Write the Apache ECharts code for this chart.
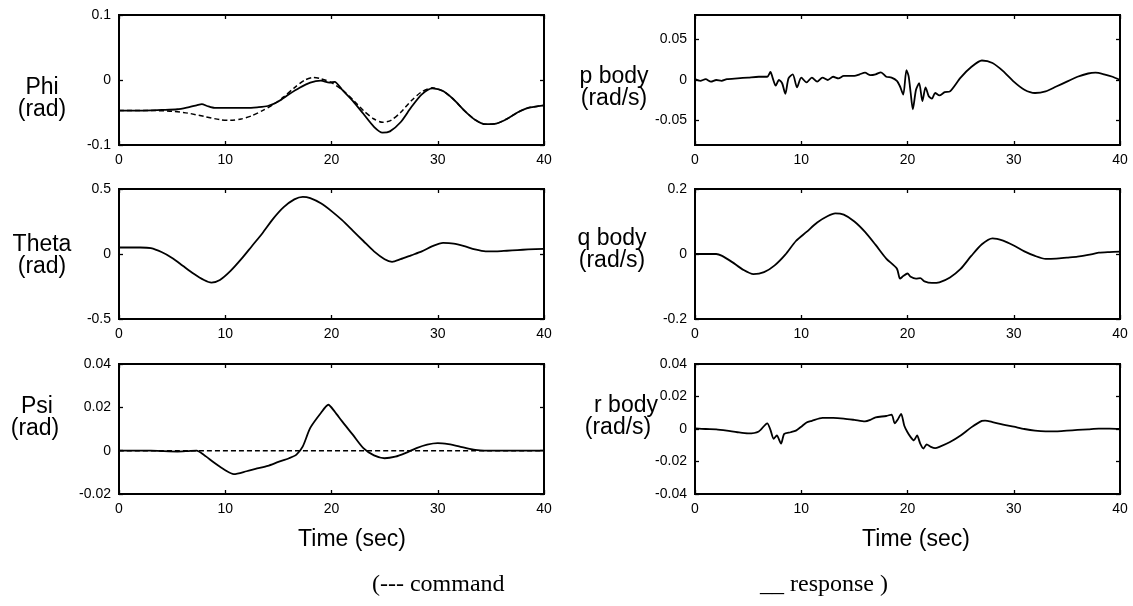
<!DOCTYPE html>
<html><head><meta charset="utf-8">
<script src="https://cdn.jsdelivr.net/npm/echarts@6/dist/echarts.min.js"></script>
<style>html,body{margin:0;padding:0;background:#fff}#c{width:1133px;height:606px}</style>
</head><body><div id="c"></div>
<script>
// ---- data: [time (s), value] ----
const phiResponse = [[0,-0.047],[2,-0.047],[4,-0.046],[5.5,-0.045],[6.5,-0.042],[7.3,-0.039],[7.8,-0.037],[8.3,-0.04],[9,-0.043],[10,-0.043],[11,-0.043],[12,-0.043],[13,-0.042],[14,-0.04],[15,-0.033],[16,-0.022],[17,-0.012],[18,-0.004],[19,-0.001],[19.8,-0.004],[20.3,-0.003],[21,-0.015],[22,-0.032],[23,-0.052],[24,-0.072],[24.8,-0.081],[25.5,-0.079],[26.5,-0.065],[27.5,-0.042],[28.5,-0.022],[29.5,-0.013],[30.5,-0.017],[31.5,-0.03],[32.5,-0.047],[33.5,-0.061],[34.5,-0.068],[35.5,-0.067],[36.5,-0.06],[37.5,-0.05],[38.5,-0.043],[40,-0.039]];
const phiCommand = [[0,-0.047],[3,-0.047],[5,-0.048],[6.5,-0.051],[8,-0.056],[9.5,-0.061],[10.5,-0.062],[11.5,-0.06],[12.5,-0.055],[13.5,-0.047],[14.5,-0.038],[15.5,-0.026],[16.5,-0.012],[17.5,0.0],[18.3,0.004],[19,0.002],[20,-0.004],[21,-0.015],[22,-0.03],[23,-0.047],[24,-0.06],[24.8,-0.065],[25.6,-0.062],[26.5,-0.05],[27.5,-0.032],[28.5,-0.018],[29.5,-0.012],[30.5,-0.017],[31.5,-0.03],[32.5,-0.047],[33.5,-0.061],[34.5,-0.068],[35.5,-0.067],[36.5,-0.06],[37.5,-0.05],[38.5,-0.043],[40,-0.039]];
const thetaResponse = [[0,0.05],[1,0.05],[2,0.05],[3,0.045],[4,0.015],[5,-0.03],[6,-0.09],[7,-0.15],[8,-0.2],[8.7,-0.22],[9.5,-0.2],[10.5,-0.13],[11.5,-0.04],[12.5,0.06],[13.5,0.16],[14.5,0.27],[15.5,0.36],[16.5,0.42],[17.3,0.44],[18,0.43],[19,0.39],[20,0.33],[21,0.26],[22,0.18],[23,0.1],[24,0.02],[25,-0.04],[25.7,-0.06],[26.5,-0.04],[27.5,-0.01],[28.5,0.02],[29.5,0.06],[30.5,0.085],[31.5,0.08],[32.5,0.06],[33.5,0.035],[34.5,0.02],[35.5,0.02],[36.5,0.025],[37.5,0.03],[38.5,0.035],[40,0.04]];
const psiResponse = [[0,0],[3,0],[4,-0.0002],[5.5,-0.0004],[6.5,-0.0002],[7.3,0],[8,-0.002],[9,-0.0057],[10,-0.009],[10.8,-0.0108],[12,-0.0095],[13,-0.0082],[14,-0.007],[15,-0.0052],[16,-0.0035],[16.7,-0.0018],[17.3,0.002],[18,0.0105],[19,0.0174],[19.7,0.0212],[20.3,0.018],[21,0.0135],[22,0.0074],[23,0.0012],[24,-0.0022],[25,-0.0035],[26,-0.0028],[27,-0.001],[28,0.0012],[29,0.0028],[30,0.0035],[31,0.003],[32,0.002],[33,0.0008],[34,0.0001],[35,0],[40,0]];
const psiCommand = [[0,0],[40,0]];
const pBody = [[0,0.001],[0.5,-0.001],[1,0.001],[1.5,-0.002],[2,0.0],[2.5,-0.001],[3,0.001],[4,0.002],[5,0.003],[6,0.004],[6.8,0.004],[7.1,0.01],[7.3,0.003],[7.6,-0.007],[7.9,0.0],[8.2,-0.004],[8.5,-0.017],[8.8,0.002],[9.2,0.007],[9.6,-0.009],[10,0.003],[10.5,-0.003],[11,0.003],[11.5,-0.002],[12,0.003],[12.5,0.0],[13,0.004],[13.5,0.002],[14,0.005],[15,0.005],[15.5,0.007],[16,0.009],[16.5,0.006],[17,0.007],[17.5,0.0095],[18,0.004],[18.5,0.003],[19,-0.001],[19.3,-0.008],[19.6,-0.018],[19.9,0.012],[20.1,0.005],[20.3,-0.016],[20.5,-0.036],[20.8,-0.012],[21.1,-0.004],[21.4,-0.026],[21.7,-0.009],[22,-0.02],[22.3,-0.023],[22.6,-0.016],[23,-0.019],[23.5,-0.015],[24,-0.014],[25,0.003],[26,0.016],[27,0.024],[28,0.021],[29,0.011],[30,-0.002],[31,-0.012],[32,-0.016],[33,-0.014],[34,-0.008],[35,-0.002],[36,0.004],[37,0.008],[37.7,0.009],[38.5,0.007],[39.3,0.004],[40,0.0]];
const qBody = [[0,0],[2,0],[2.5,-0.005],[3.5,-0.025],[4.5,-0.048],[5.5,-0.062],[6.5,-0.056],[7.5,-0.035],[8.5,-0.002],[9.5,0.04],[10.5,0.068],[11.5,0.097],[12.5,0.117],[13.2,0.125],[14,0.121],[15,0.1],[16,0.068],[17,0.028],[18,-0.014],[19,-0.045],[19.3,-0.076],[19.6,-0.068],[20,-0.06],[20.3,-0.07],[20.8,-0.076],[21.2,-0.074],[21.6,-0.084],[22.3,-0.089],[23,-0.087],[24,-0.072],[25,-0.046],[26,-0.006],[27,0.03],[28,0.048],[29,0.041],[30,0.026],[31,0.008],[32,-0.006],[33,-0.015],[34,-0.014],[35,-0.011],[36,-0.008],[37,-0.003],[38,0.004],[39,0.006],[40,0.007]];
const rBody = [[0,0.0004],[1,0],[2,-0.0002],[3,-0.001],[4,-0.002],[5,-0.0027],[6,-0.0015],[6.8,0.0035],[7.1,-0.0005],[7.4,-0.006],[7.7,-0.004],[8.1,-0.009],[8.4,-0.003],[9,-0.002],[9.5,-0.001],[10,0.0014],[10.5,0.004],[11,0.005],[12,0.0068],[13,0.0068],[14,0.0064],[15,0.0056],[16,0.0047],[16.5,0.0056],[17,0.0072],[18,0.008],[18.5,0.0089],[18.8,0.0035],[19.1,0.006],[19.4,0.0093],[19.7,0.002],[20,-0.002],[20.3,-0.005],[20.6,-0.007],[20.9,-0.004],[21.2,-0.009],[21.5,-0.012],[21.8,-0.0095],[22.2,-0.011],[22.6,-0.0118],[23,-0.011],[24,-0.008],[25,-0.004],[26,0.001],[27,0.005],[27.3,0.0052],[28,0.0043],[29,0.0027],[30,0.0014],[31,0],[32,-0.001],[33,-0.0014],[34,-0.0014],[35,-0.001],[36,-0.0006],[37,-0.0002],[38,0.0002],[39,0.0002],[40,0]];

const xTicks = [0, 10, 20, 30, 40];
const panelNames = [['Phi', '(rad)'], ['Theta', '(rad)'], ['Psi', '(rad)'], ['p body', '(rad/s)'], ['q body', '(rad/s)'], ['r body', '(rad/s)']];
const yRanges = [[-0.1, 0.1], [-0.5, 0.5], [-0.02, 0.04], [-0.08, 0.08], [-0.2, 0.2], [-0.04, 0.04]];
const yTicks = [[-0.1, 0, 0.1], [-0.5, 0, 0.5], [-0.02, 0, 0.02, 0.04], [-0.05, 0, 0.05], [-0.2, 0, 0.2], [-0.04, -0.02, 0, 0.02, 0.04]];
const axisTitle = 'Time (sec)';
const legendCommand = '(--- command';
const legendResponse = '__ response )';

// ---- layout ----
const lefts = [119, 119, 119, 695, 695, 695];
const tops = [15, 189, 364, 15, 189, 364];
const W = 425, H = 130;
const sans = 'Liberation Sans, Arial, Helvetica, sans-serif';
const serif = 'Liberation Serif, Times New Roman, serif';

const grids = [], xAxes = [], yAxes = [], series = [];
for (let i = 0; i < 6; i++) {
  grids.push({left: lefts[i], top: tops[i], width: W, height: H, show: true, borderColor: '#000', borderWidth: 2, containLabel: false});
  const tickStyle = {show: true, inside: true, length: 4, lineStyle: {color: '#000', width: 1.3}};
  xAxes.push({gridIndex: i, type: 'value', min: 0, max: 40, interval: 10, position: 'bottom',
    axisLine: {show: true, onZero: false, lineStyle: {color: '#000', width: 2}}, axisTick: tickStyle,
    axisLabel: {color: '#000', fontFamily: sans, fontSize: 14, margin: 8}, splitLine: {show: false}});
  xAxes.push({gridIndex: i, type: 'value', min: 0, max: 40, interval: 10, position: 'top',
    axisLine: {show: true, onZero: false, lineStyle: {color: '#000', width: 2}}, axisTick: tickStyle,
    axisLabel: {show: false}, splitLine: {show: false}});
  const yb = {gridIndex: i, type: 'value', min: yRanges[i][0], max: yRanges[i][1], splitLine: {show: false},
    axisLine: {show: true, onZero: false, lineStyle: {color: '#000', width: 2}}};
  yAxes.push(Object.assign({}, yb, {position: 'left',
    axisTick: Object.assign({}, tickStyle, {customValues: yTicks[i]}),
    axisLabel: {color: '#000', fontFamily: sans, fontSize: 14, margin: 8, customValues: yTicks[i],
      formatter: v => String(+v.toFixed(4))}}));
  yAxes.push(Object.assign({}, yb, {position: 'right',
    axisTick: Object.assign({}, tickStyle, {customValues: yTicks[i]}),
    axisLabel: {show: false, customValues: yTicks[i]}}));
}

function line(i, data, dashed) {
  return {type: 'line', xAxisIndex: 2 * i, yAxisIndex: 2 * i, data: data, showSymbol: false, symbol: 'none',
    smooth: 0.25, animation: false, silent: true,
    lineStyle: {color: '#000', width: dashed ? 1.5 : 1.8, type: dashed ? [5, 3] : 'solid'}};
}
series.push(line(0, phiCommand, true), line(0, phiResponse, false));
series.push(line(1, thetaResponse, false));
series.push(line(2, psiCommand, true), line(2, psiResponse, false));
series.push(line(3, pBody, false));
series.push(line(4, qBody, false));
series.push(line(5, rBody, false));

// [x of line 1, y of line 1, x of line 2, y of line 2] (centres)
const namePos = [[42, 88, 42, 110], [42, 245, 42, 267], [37, 407, 35, 429], [614, 77, 614, 99], [612, 239, 612, 261], [626, 406, 618, 428]];
const graphic = [];
for (let i = 0; i < 6; i++) {
  for (let k = 0; k < 2; k++) {
    graphic.push({type: 'text', x: namePos[i][2 * k], y: namePos[i][2 * k + 1],
      style: {text: panelNames[i][k], fill: '#000', font: '23px ' + sans, align: 'center', verticalAlign: 'middle'}});
  }
}
graphic.push({type: 'text', x: 352, y: 540, style: {text: axisTitle, fill: '#000', font: '23px ' + sans, align: 'center', verticalAlign: 'middle'}});
graphic.push({type: 'text', x: 916, y: 540, style: {text: axisTitle, fill: '#000', font: '23px ' + sans, align: 'center', verticalAlign: 'middle'}});
graphic.push({type: 'text', x: 372, y: 585, style: {text: legendCommand, fill: '#000', font: '24px ' + serif, align: 'left', verticalAlign: 'middle'}});
graphic.push({type: 'text', x: 760, y: 585, style: {text: legendResponse, fill: '#000', font: '24px ' + serif, align: 'left', verticalAlign: 'middle'}});

const chart = echarts.init(document.getElementById('c'), null, {renderer: 'canvas'});
chart.setOption({backgroundColor: '#fff', animation: false, grid: grids, xAxis: xAxes, yAxis: yAxes, series: series, graphic: graphic});
</script></body></html>
